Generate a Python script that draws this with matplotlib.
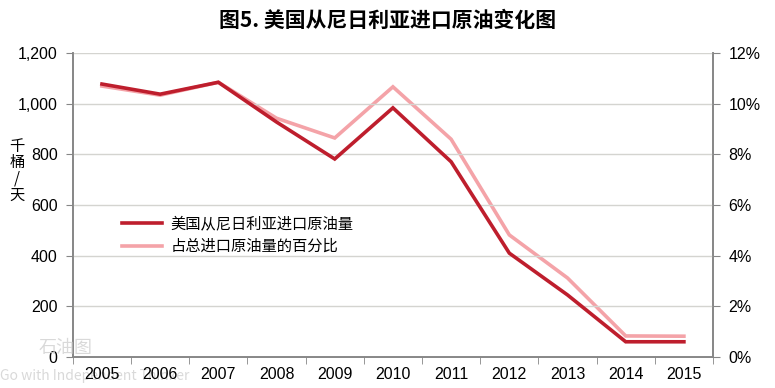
import numpy as np
import matplotlib
matplotlib.use('Agg')
import matplotlib.pyplot as plt
from matplotlib.ticker import FuncFormatter

plt.rcParams['font.family'] = ['Noto Sans CJK SC', 'DejaVu Sans']

years = ['2005', '2006', '2007', '2008', '2009', '2010',
         '2011', '2012', '2013', '2014', '2015']
# 千桶/天
imports = [1078, 1038, 1085, 928, 782, 984, 771, 410, 245, 60, 60]
# share of total crude imports, %
share = [10.7, 10.34, 10.85, 9.43, 8.65, 10.67, 8.6, 4.82, 3.12, 0.83, 0.82]

dark = '#BE1E2D'
pink = '#F4A3A8'
axcol = '#868686'
numfont = ['Liberation Sans', 'DejaVu Sans']

fig = plt.figure(figsize=(7.75, 3.88), dpi=100)
ax = fig.add_axes([0.094, 0.08, 0.826, 0.783])
ax2 = ax.twinx()

x = np.arange(len(years))
l1, = ax.plot(x, imports, color=dark, lw=2.6, zorder=3,
              solid_joinstyle='miter', label='美国从尼日利亚进口原油量')
l2, = ax2.plot(x, share, color=pink, lw=2.6, zorder=2,
               solid_joinstyle='miter', label='占总进口原油量的百分比')

ax.set_zorder(ax2.get_zorder() + 1)
ax.patch.set_visible(False)

ax.set_xlim(-0.5, len(years) - 0.5)
ax.set_ylim(0, 1200)
ax.set_yticks(range(0, 1201, 200))
ax.yaxis.set_major_formatter(FuncFormatter(lambda v, p: f'{int(v):,}'))
ax2.set_ylim(0, 12)
ax2.set_yticks(range(0, 13, 2))
ax2.yaxis.set_major_formatter(FuncFormatter(lambda v, p: f'{int(v)}%'))

ax.grid(axis='y', color='#D4D4D0', lw=1)
ax.set_axisbelow(True)

ax.set_xticks(x)
ax.set_xticklabels(years)
ax.set_xticks(np.arange(-0.5, len(years)), minor=True)
ax.tick_params(axis='x', which='major', length=0, pad=7, labelsize=11.5)
ax.tick_params(axis='x', which='minor', length=5, color=axcol, direction='out')
ax.tick_params(axis='y', length=5, color=axcol, labelsize=11.5, pad=6)
ax2.tick_params(axis='y', length=5, color=axcol, labelsize=11.5, pad=6)
for lab in ax.get_xticklabels() + ax.get_yticklabels() + ax2.get_yticklabels():
    lab.set_family(numfont)

for a in (ax, ax2):
    a.spines['top'].set_visible(False)
    for s in ('left', 'right', 'bottom'):
        a.spines[s].set_color(axcol)
        a.spines[s].set_linewidth(1.2)

ax.legend(handles=[l1, l2], loc='upper left', bbox_to_anchor=(0.055, 0.51),
          frameon=False, fontsize=11, handlelength=2.6, handletextpad=0.6,
          labelspacing=0.35)

fig.text(0.5, 0.948, '图5. 美国从尼日利亚进口原油变化图', ha='center', va='center',
         fontsize=15, fontweight='bold')
fig.text(0.022, 0.56, '千\n桶\n/\n天', ha='center', va='center', fontsize=11,
         linespacing=0.95)

# faint watermark
fig.text(0.05, 0.09, '石油图', fontsize=13, color='#D0D0D0', alpha=0.8)
fig.text(0.0, 0.02, 'Go with Independent Thinker', fontsize=10, color='#D0D0D0',
         alpha=0.8, zorder=0)

fig.savefig('out.png', dpi=100)
